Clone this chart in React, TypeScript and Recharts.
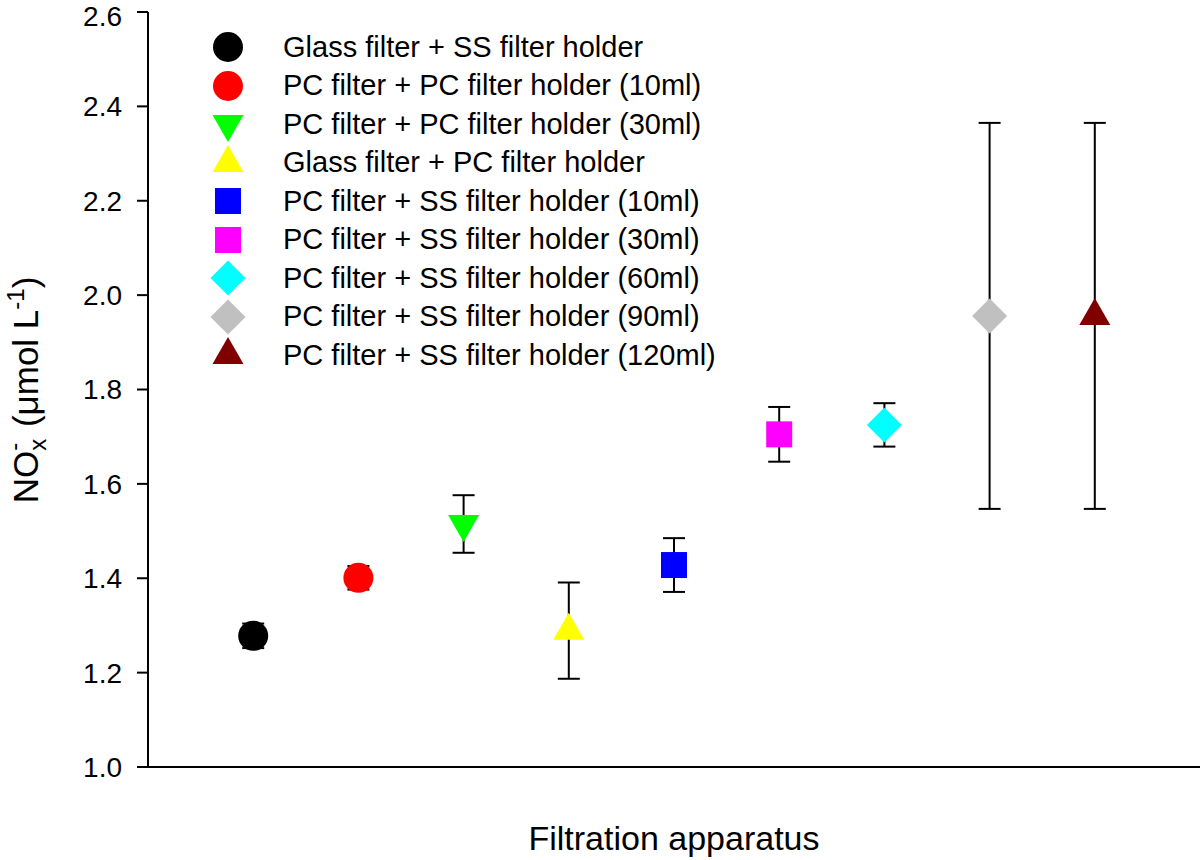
import React from 'react'
import { ScatterChart, Scatter, XAxis, YAxis, ErrorBar, Legend } from 'recharts'

const labels = [
  'Glass filter + SS filter holder',
  'PC filter + PC filter holder (10ml)',
  'PC filter + PC filter holder (30ml)',
  'Glass filter + PC filter holder',
  'PC filter + SS filter holder (10ml)',
  'PC filter + SS filter holder (30ml)',
  'PC filter + SS filter holder (60ml)',
  'PC filter + SS filter holder (90ml)',
  'PC filter + SS filter holder (120ml)',
]
const means = [1.278, 1.401, 1.515, 1.289, 1.428, 1.705, 1.725, 1.956, 1.956]
const errs = [0.026, 0.025, 0.061, 0.102, 0.057, 0.058, 0.046, 0.409, 0.409]
const colors = ['#000000', '#ff0000', '#00ff00', '#ffff00', '#0000ff', '#ff00ff', '#00ffff', '#c0c0c0', '#800000']
const shapes = ['circle', 'circle', 'triangleDown', 'triangle', 'square', 'square', 'diamond', 'diamond', 'triangle']
const yTicks = [1.0, 1.2, 1.4, 1.6, 1.8, 2.0, 2.2, 2.4, 2.6]

const FONT = 'Arial, "Liberation Sans", sans-serif'

function marker(kind: string, color: string, cx: number, cy: number) {
  switch (kind) {
    case 'circle':
      return <circle cx={cx} cy={cy} r={15} fill={color} />
    case 'triangle':
      return <path d={`M${cx},${cy - 18}L${cx + 15.5},${cy + 9}L${cx - 15.5},${cy + 9}Z`} fill={color} />
    case 'triangleDown':
      return <path d={`M${cx},${cy + 18}L${cx + 15.5},${cy - 9}L${cx - 15.5},${cy - 9}Z`} fill={color} />
    case 'square':
      return <rect x={cx - 13} y={cy - 13} width={26} height={26} fill={color} />
    case 'diamond':
      return <path d={`M${cx},${cy - 17.5}L${cx + 17.5},${cy}L${cx},${cy + 17.5}L${cx - 17.5},${cy}Z`} fill={color} />
    default:
      return null
  }
}

const LegendBox = () => (
  <div style={{ fontFamily: FONT, fontSize: 29, color: '#000' }}>
    {labels.map((l, i) => (
      <div key={l} style={{ display: 'flex', alignItems: 'center', height: 38.5 }}>
        <svg width={40} height={38} style={{ marginRight: 35 }}>
          {marker(shapes[i], colors[i], 20, 19)}
        </svg>
        <span style={{ whiteSpace: 'nowrap' }}>{l}</span>
      </div>
    ))}
  </div>
)

const YLabel = () => (
  <text
    transform="rotate(-90, 38, 390)"
    x={38}
    y={390}
    textAnchor="middle"
    fontSize={35}
    fontFamily={FONT}
    fill="#000"
  >
    NO
    <tspan dy={8} fontSize={24}>x</tspan>
    <tspan dx={-12} dy={-24} fontSize={24}>-</tspan>
    <tspan dx={6} dy={16}> (μmol L</tspan>
    <tspan dy={-14} fontSize={24}>-1</tspan>
    <tspan dy={14}>)</tspan>
  </text>
)

export default function App() {
  return (
    <div style={{ position: 'absolute', left: 0, top: 0, background: '#fff' }}>
      <ScatterChart width={1200} height={860} margin={{ top: 12, right: 0, bottom: 0, left: 0 }}>
        <XAxis
          type="number"
          dataKey="x"
          domain={[0, 10]}
          tick={false}
          tickLine={false}
          axisLine={{ stroke: '#000', strokeWidth: 2 }}
          height={93}
          label={{ value: 'Filtration apparatus', position: 'insideBottom', offset: 10, fontSize: 34, fontFamily: FONT, fill: '#000' }}
        />
        <YAxis
          type="number"
          dataKey="y"
          domain={[1, 2.6]}
          ticks={yTicks}
          tickFormatter={(v: number) => v.toFixed(1)}
          width={148}
          tickSize={11}
          tickMargin={15}
          tick={{ fontSize: 28, fontFamily: FONT, fill: '#000' }}
          tickLine={{ stroke: '#000', strokeWidth: 2 }}
          axisLine={{ stroke: '#000', strokeWidth: 2 }}
          label={{ content: () => <YLabel /> }}
        />
        <Legend
          content={() => <LegendBox />}
          layout="horizontal"
          verticalAlign="middle"
          align="center"
          wrapperStyle={{ top: 28, left: 208, width: 'auto' }}
        />
        {labels.map((l, i) => (
          <Scatter
            key={l}
            name={l}
            data={[{ x: i + 1, y: means[i], err: errs[i] }]}
            fill={colors[i]}
            isAnimationActive={false}
            shape={(p: any) => marker(shapes[i], colors[i], p.cx, p.cy)}
          >
            <ErrorBar dataKey="err" direction="y" width={11} stroke="#000" strokeWidth={2} />
          </Scatter>
        ))}
      </ScatterChart>
    </div>
  )
}
